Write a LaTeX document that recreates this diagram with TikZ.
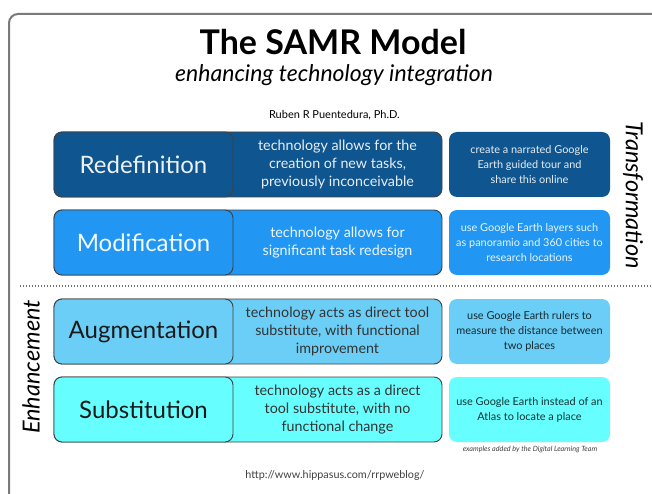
\documentclass[tikz,border=0pt]{standalone}
\usepackage{fontspec}
\setmainfont{Lato}
\usepackage{tikz}
\definecolor{redefc}{HTML}{0F558F}
\definecolor{modc}{HTML}{2196F2}
\definecolor{augc}{HTML}{6BCEF6}
\definecolor{subc}{HTML}{66FEFE}
\definecolor{framec}{HTML}{7A7A7A}
\newcommand{\fs}[2]{\fontsize{#1}{#2}\selectfont}

\begin{document}
\begin{tikzpicture}[x=1pt,y=1pt,
    level/.style={draw=black!75, line width=0.9pt, rounded corners=8pt,
        minimum width=388pt, minimum height=65pt, inner sep=0pt},
    levelname/.style={draw=black!75, line width=0.9pt, rounded corners=8pt,
        minimum width=179pt, minimum height=65pt, inner sep=0pt, font=\fs{24}{28}},
    desc/.style={align=center, inner sep=0pt, font=\fs{14.3}{18}},
    example/.style={rounded corners=8pt, minimum width=161pt, minimum height=65pt,
        inner sep=0pt, align=center, font=\fs{10.9}{15}}]
    \useasboundingbox (0,0) rectangle (652,-494);
    \draw[framec, line width=2pt, rounded corners=9pt] (9,-520) -- (9,-14) -- (680,-14);

    \node (title) at (333,-42) {\fs{34}{38}\bfseries The SAMR Model};
    \node (sub) at (334,-75) {\fs{23}{27}\itshape enhancing technology integration};
    \node (author) at (333,-115) {\fs{11}{13} Ruben R Puentedura, Ph.D.};

    % Redefinition
    \node[level, fill=redefc] (R) at (248,-164.5) {};
    \node[levelname, fill=redefc, text=white!92!redefc] (Rn) at (143.5,-164.5) {Redefinition};
    \node[desc, text=white!90!redefc] (Rd) at (337.5,-164.5) {technology allows for the\\creation of new tasks,\\previously inconceivable};
    \node[example, fill=redefc, text=white!90!redefc] (Re) at (529.5,-164.5) {create a narrated Google\\Earth guided tour and\\share this online};

    % Modification
    \node[level, fill=modc] (M) at (248,-242.5) {};
    \node[levelname, fill=modc, text=white!95!modc] (Mn) at (143.5,-242.5) {Modification};
    \node[desc, text=white!92!modc] (Md) at (337.5,-242.5) {technology allows for\\significant task redesign};
    \node[example, fill=modc, text=white!90!modc] (Me) at (529.5,-242.5) {use Google Earth layers such\\as panoramio and 360 cities to\\research locations};

    % divider
    \coordinate (divL) at (20,-286);
    \coordinate (divR) at (652,-286);
    \draw[black!55, line width=1.3pt, dash pattern=on 1.3pt off 1.7pt] (divL) -- (divR);

    % Augmentation
    \node[level, fill=augc] (A) at (248,-331.5) {};
    \node[levelname, fill=augc, text=black!90] (An) at (143.5,-331.5) {Augmentation};
    \node[desc, text=black!80] (Ad) at (337.5,-331.5) {technology acts as direct tool\\substitute, with functional\\improvement};
    \node[example, fill=augc, text=black!80!augc] (Ae) at (529.5,-331.5) {use Google Earth rulers to\\measure the distance between\\two places};

    % Substitution
    \node[level, fill=subc] (S) at (248,-409.5) {};
    \node[levelname, fill=subc, text=black!90] (Sn) at (143.5,-409.5) {Substitution};
    \node[desc, text=black!80] (Sd) at (337.5,-409.5) {technology acts as a direct\\tool substitute, with no\\functional change};
    \node[example, fill=subc, text=black!80!subc] (Se) at (529.5,-409.5) {use Google Earth instead of an\\Atlas to locate a place};

    \node (credit) at (530,-449) {\fs{7.2}{9}\itshape\color{black!75} examples added by the Digital Learning Team};
    \node (url) at (335,-476) {\fs{10.8}{13}\color{black!75} http://www.hippasus.com/rrpweblog/};

    \node[rotate=-90] (trans) at (633,-195) {\fs{23.5}{27}\itshape Transformation};
    \node[rotate=90] (enh) at (31,-367) {\fs{23.5}{27}\itshape Enhancement};
\end{tikzpicture}
\end{document}
